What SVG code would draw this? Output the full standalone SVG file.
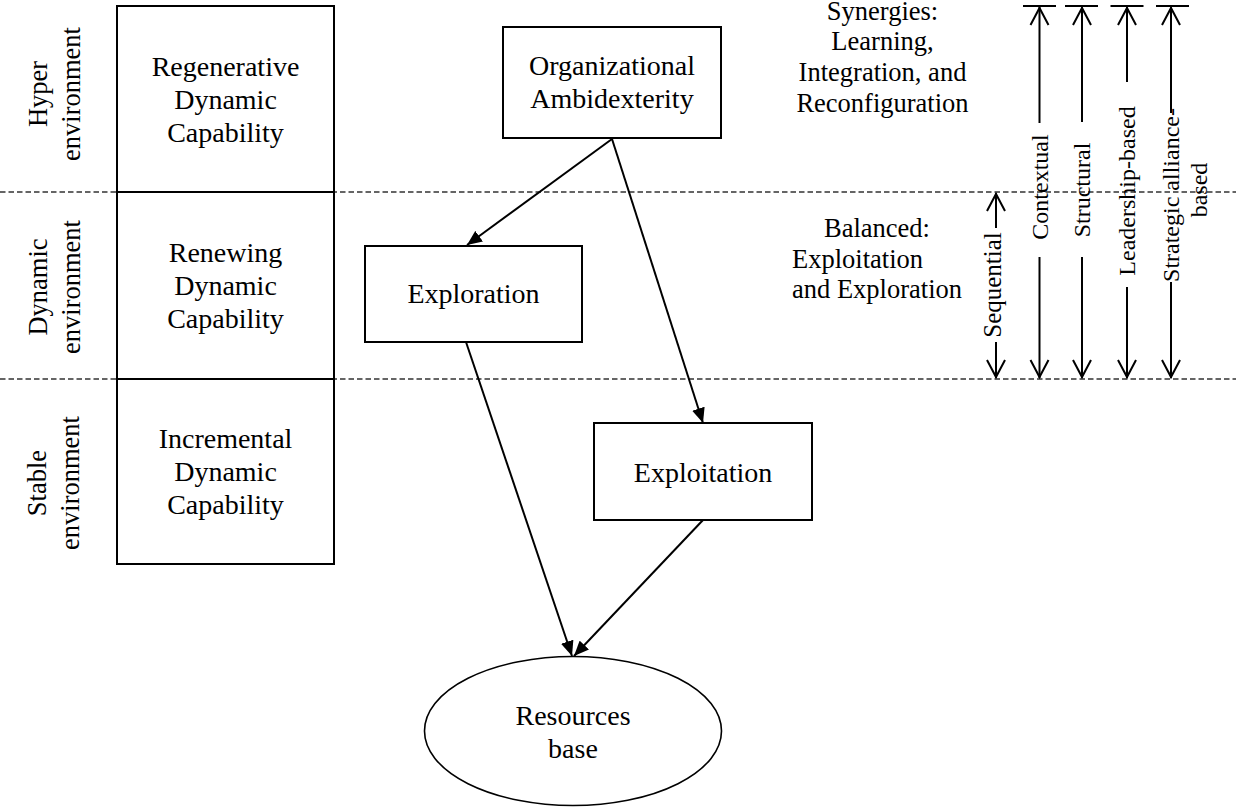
<svg xmlns="http://www.w3.org/2000/svg" width="1236" height="807" viewBox="0 0 1236 807">
  <style>
    text { font-family: "Liberation Serif", "Times New Roman", serif; fill: #000; }
    .box { fill: #fff; stroke: #000; stroke-width: 2; }
    .lbl { font-size: 28px; text-anchor: middle; }
    .env { font-size: 26.5px; text-anchor: middle; }
    .side { font-size: 26.5px; }
    .mode { font-size: 24px; text-anchor: middle; }
    .band { stroke: #333; stroke-width: 1.6; stroke-dasharray: 5.5 3; fill: none; }
    .link { stroke: #000; stroke-width: 2; fill: none; marker-end: url(#arrow); }
    .span { stroke: #000; stroke-width: 2; fill: none; marker-end: url(#vee); }
    .cap { stroke: #000; stroke-width: 2; }
  </style>
  <defs>
    <marker id="arrow" markerUnits="userSpaceOnUse" viewBox="0 0 15 13" refX="15" refY="6.5" markerWidth="15" markerHeight="13" orient="auto">
      <path d="M0,0 L15,6.5 L0,13 z" fill="#000"/>
    </marker>
    <marker id="vee" markerUnits="userSpaceOnUse" viewBox="0 0 22 22" refX="19" refY="11" markerWidth="22" markerHeight="22" orient="auto" overflow="visible">
      <path d="M1,2 L18,11 L1,20" fill="none" stroke="#000" stroke-width="2"/>
    </marker>
  </defs>

  <rect width="1236" height="807" fill="#fff"/>

  <!-- environment band boundaries -->
  <g id="bands">
    <line class="band" x1="0" y1="192" x2="1236" y2="192"/>
    <line class="band" x1="0" y1="379" x2="1236" y2="379"/>
  </g>

  <!-- environment labels -->
  <g id="env-hyper">
    <text class="env" transform="translate(47,94) rotate(-90)"><tspan x="0">Hyper</tspan><tspan x="0" dy="33">environment</tspan></text>
  </g>
  <g id="env-dynamic">
    <text class="env" transform="translate(47,287) rotate(-90)"><tspan x="0">Dynamic</tspan><tspan x="0" dy="33">environment</tspan></text>
  </g>
  <g id="env-stable">
    <text class="env" transform="translate(46,483) rotate(-90)"><tspan x="0">Stable</tspan><tspan x="0" dy="33">environment</tspan></text>
  </g>

  <!-- dynamic capability column -->
  <g id="cap-regenerative">
    <rect class="box" x="117" y="6" width="217" height="186"/>
    <text class="lbl"><tspan x="225.5" y="76">Regenerative</tspan><tspan x="225.5" y="109">Dynamic</tspan><tspan x="225.5" y="142">Capability</tspan></text>
  </g>
  <g id="cap-renewing">
    <rect class="box" x="117" y="192" width="217" height="187"/>
    <text class="lbl"><tspan x="225.5" y="262">Renewing</tspan><tspan x="225.5" y="295">Dynamic</tspan><tspan x="225.5" y="328">Capability</tspan></text>
  </g>
  <g id="cap-incremental">
    <rect class="box" x="117" y="379" width="217" height="185"/>
    <text class="lbl"><tspan x="225.5" y="448">Incremental</tspan><tspan x="225.5" y="481">Dynamic</tspan><tspan x="225.5" y="514">Capability</tspan></text>
  </g>

  <!-- connectors -->
  <g id="connectors">
    <line class="link" x1="612" y1="139" x2="467" y2="245"/>
    <line class="link" x1="612" y1="139" x2="703" y2="423"/>
    <line class="link" x1="466" y1="342" x2="572" y2="656"/>
    <line class="link" x1="703" y1="520" x2="574" y2="656"/>
  </g>

  <g id="ambidexterity">
    <rect class="box" x="503" y="27" width="218" height="111"/>
    <text class="lbl"><tspan x="612" y="75">Organizational</tspan><tspan x="612" y="108">Ambidexterity</tspan></text>
  </g>
  <g id="exploration">
    <rect class="box" x="365" y="246" width="217" height="96"/>
    <text class="lbl" x="473.5" y="303">Exploration</text>
  </g>
  <g id="exploitation">
    <rect class="box" x="594" y="423" width="218" height="97"/>
    <text class="lbl" x="703" y="482">Exploitation</text>
  </g>
  <g id="resources">
    <ellipse cx="573" cy="731" rx="148.5" ry="74.5" fill="#fff" stroke="#000" stroke-width="1.6"/>
    <text class="lbl"><tspan x="573" y="725">Resources</tspan><tspan x="573" y="758">base</tspan></text>
  </g>

  <!-- band descriptions -->
  <g id="synergies">
    <text class="side" text-anchor="middle"><tspan x="882.5" y="20">Synergies:</tspan><tspan x="882.5" y="50">Learning,</tspan><tspan x="882.5" y="81">Integration, and</tspan><tspan x="882.5" y="112">Reconfiguration</tspan></text>
  </g>
  <g id="balanced">
    <text class="side"><tspan x="877" y="237" text-anchor="middle">Balanced:</tspan><tspan x="792" y="268">Exploitation</tspan><tspan x="792" y="298">and Exploration</tspan></text>
  </g>

  <!-- ambidexterity modes spanning the bands -->
  <g id="mode-sequential">
    <line class="span" x1="996" y1="228" x2="996" y2="193"/>
    <line class="span" x1="996" y1="342" x2="996" y2="378"/>
    <text class="mode" style="font-size:25px" transform="translate(1001,285) rotate(-90)" x="0" y="0">Sequential</text>
  </g>
  <g id="mode-contextual">
    <line class="cap" x1="1023" y1="6" x2="1056" y2="6"/>
    <line class="span" x1="1039.5" y1="123" x2="1039.5" y2="7"/>
    <line class="span" x1="1039.5" y1="257" x2="1039.5" y2="378"/>
    <text class="mode" transform="translate(1047.5,187) rotate(-90)" x="0" y="0">Contextual</text>
  </g>
  <g id="mode-structural">
    <line class="cap" x1="1065" y1="6" x2="1098" y2="6"/>
    <line class="span" x1="1082" y1="122" x2="1082" y2="7"/>
    <line class="span" x1="1082" y1="257" x2="1082" y2="378"/>
    <text class="mode" transform="translate(1090,190) rotate(-90)" x="0" y="0">Structural</text>
  </g>
  <g id="mode-leadership">
    <line class="cap" x1="1110.5" y1="6" x2="1143.5" y2="6"/>
    <line class="span" x1="1127" y1="82" x2="1127" y2="7"/>
    <line class="span" x1="1127" y1="287" x2="1127" y2="378"/>
    <text class="mode" transform="translate(1135,191) rotate(-90)" x="0" y="0">Leadership-based</text>
  </g>
  <g id="mode-alliance">
    <line class="cap" x1="1156" y1="6" x2="1189" y2="6"/>
    <line class="span" x1="1171" y1="113" x2="1171" y2="7"/>
    <line class="span" x1="1171" y1="282" x2="1171" y2="378"/>
    <text class="mode" transform="translate(1179,192) rotate(-90)"><tspan x="-3" y="0">Strategic alliance-</tspan><tspan x="2" y="28">based</tspan></text>
  </g>
</svg>
